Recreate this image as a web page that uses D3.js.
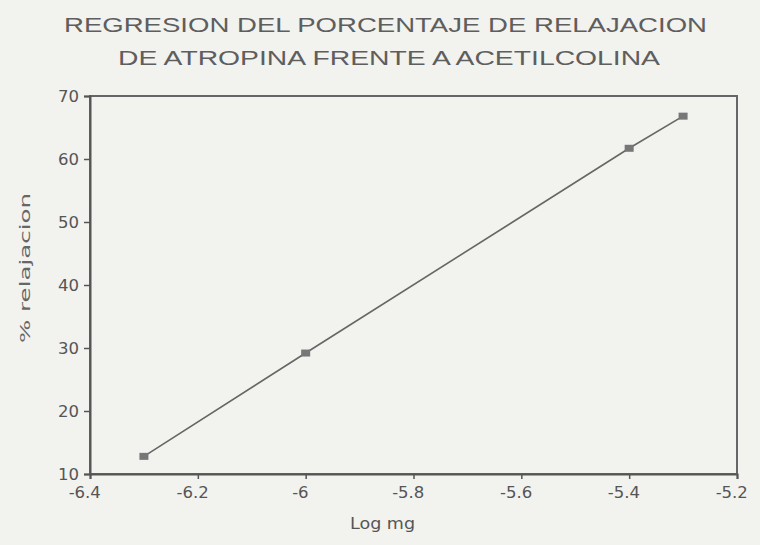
<!DOCTYPE html>
<html>
<head>
<meta charset="utf-8">
<script src="https://cdn.jsdelivr.net/npm/d3@7"></script>
<style>
  body { margin: 0; background: #f2f2ef; }
  svg { display: block; }
</style>
</head>
<body>
<svg id="chart" width="760" height="545"></svg>
<script>
// datos
var logDosis = [-6.3, -6.0, -5.4, -5.3];
var relajacion = [12.8, 29.2, 61.7, 66.8];
var xTicks = [-6.4, -6.2, -6, -5.8, -5.6, -5.4, -5.2];
var yTicks = [10, 20, 30, 40, 50, 60, 70];
var titulo = ["REGRESION DEL PORCENTAJE DE RELAJACION", "DE ATROPINA FRENTE A ACETILCOLINA"];

var svg = d3.select("#chart"),
    margin = {top: 96, right: 23, bottom: 71, left: 90},
    W = 760, H = 545,
    w = W - margin.left - margin.right,
    h = H - margin.top - margin.bottom,
    fuente = "DejaVu Sans, Verdana, sans-serif";

var x = d3.scaleLinear().domain([-6.4, -5.2]).range([0, w]);
var y = d3.scaleLinear().domain([10, 70]).range([h, 0]);

var g = svg.append("g").attr("transform", "translate(" + margin.left + "," + margin.top + ")");

// titulo
svg.selectAll(".titulo").data(titulo).enter()
    .append("text").attr("class", "titulo")
    .attr("x", function(d, i){ return i == 0 ? 64 : 118; })
    .attr("y", function(d, i){ return i == 0 ? 32 : 65; })
    .attr("textLength", function(d, i){ return i == 0 ? 643 : 542; })
    .attr("lengthAdjust", "spacingAndGlyphs")
    .attr("font-family", "Liberation Sans, Arial, sans-serif")
    .attr("font-size", 21)
    .attr("fill", "#5e5e5e")
    .text(function(d){ return d; });

// marco
g.append("rect")
    .attr("x", 0).attr("y", 0).attr("width", w).attr("height", h)
    .attr("fill", "none").attr("stroke", "#666").attr("stroke-width", 2);

// ejes
var xAxis = g.append("g").attr("transform", "translate(0," + h + ")")
    .call(d3.axisBottom(x).tickValues(xTicks).tickSize(5).tickPadding(7)
        .tickFormat(function(d){ return String(+d.toFixed(1)); }));
var yAxis = g.append("g")
    .call(d3.axisLeft(y).tickValues(yTicks).tickSize(6).tickPadding(5));

[xAxis, yAxis].forEach(function(a){
    a.select(".domain").attr("stroke", "#555").attr("stroke-width", 2);
    a.selectAll(".tick line").attr("stroke", "#555").attr("stroke-width", 1.5);
    a.selectAll(".tick text")
        .attr("font-family", fuente)
        .attr("font-size", 16.5).attr("fill", "#555");
});
xAxis.selectAll(".tick text").attr("dx", "-0.35em");

// titulos de ejes
svg.append("text")
    .attr("x", 350).attr("y", 529)
    .attr("textLength", 65).attr("lengthAdjust", "spacingAndGlyphs")
    .attr("font-family", fuente)
    .attr("font-size", 16).attr("fill", "#555")
    .text("Log mg");

svg.append("text")
    .attr("transform", "translate(30,343) rotate(-90)")
    .attr("textLength", 150).attr("lengthAdjust", "spacingAndGlyphs")
    .attr("font-family", fuente)
    .attr("font-size", 14).attr("fill", "#666")
    .text("% relajacion");

// linea de regresion
var puntos = logDosis.map(function(v, i){ return {x: v, y: relajacion[i]}; });

g.append("path").datum(puntos)
    .attr("d", d3.line().x(function(d){ return x(d.x); }).y(function(d){ return y(d.y); }))
    .attr("fill", "none").attr("stroke", "#666").attr("stroke-width", 1.6);

g.selectAll(".punto").data(puntos).enter()
    .append("rect").attr("class", "punto")
    .attr("x", function(d){ return x(d.x) - 4.5; })
    .attr("y", function(d){ return y(d.y) - 3.5; })
    .attr("width", 9).attr("height", 7)
    .attr("fill", "#777");
</script>
</body>
</html>
